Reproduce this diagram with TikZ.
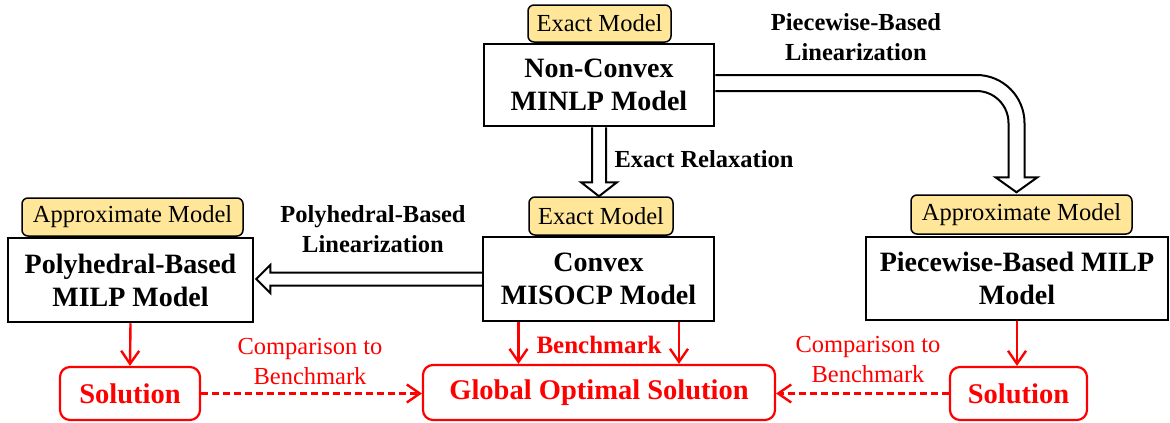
\documentclass[tikz,border=0pt]{standalone}
\usepackage{fontspec}
\setmainfont{Liberation Serif}
\usetikzlibrary{arrows.meta,calc}
\definecolor{tagfill}{HTML}{FFE699}
\begin{document}
\begin{tikzpicture}[x=1pt,y=-1pt,
  modelbox/.style={draw=black, line width=2.5pt, fill=white, align=center, inner sep=0pt,
    font=\bfseries\fontsize{28}{33}\selectfont},
  tagbox/.style={draw=black, line width=1.5pt, fill=tagfill, rounded corners=6pt, inner sep=0pt,
    font=\fontsize{24.5}{28}\selectfont},
  solbox/.style={draw=red, text=red, line width=2.2pt, rounded corners=10pt, inner sep=0pt,
    font=\bfseries\fontsize{28.5}{33}\selectfont},
  hollow/.style={draw=black, line width=2pt, fill=white, line join=miter},
  redarrow/.style={draw=red, line width=2.4pt, -{Straight Barb[length=13pt,width=18pt]}},
  dasharrow/.style={redarrow, dash pattern=on 7pt off 4pt},
  lbl/.style={font=\bfseries\fontsize{24.5}{30}\selectfont, align=center},
  redlbl/.style={text=red, font=\fontsize{24.5}{30}\selectfont, align=center},
  redbold/.style={text=red, font=\bfseries\fontsize{25}{30}\selectfont}]
\useasboundingbox (0,0) rectangle (1170,423);

% model boxes
\node[modelbox, minimum width=230pt, minimum height=82pt] (nc) at (599,85) {Non-Convex\\MINLP Model};
\node[modelbox, minimum width=231pt, minimum height=84pt] (cv) at (598.5,279) {Convex\\MISOCP Model};
\node[modelbox, minimum width=245pt, minimum height=84pt] (pb) at (130.5,280) {Polyhedral-Based\\MILP Model};
\node[modelbox, minimum width=302pt, minimum height=83pt] (pw) at (1017,278.5) {Piecewise-Based MILP\\Model};

% model-type tags
\node[tagbox, minimum width=143pt, minimum height=37pt] (tagA) at (599.5,23.5) {Exact Model};
\node[tagbox, minimum width=144pt, minimum height=38pt] (tagB) at (601,216) {Exact Model};
\node[tagbox, minimum width=221pt, minimum height=38pt] (tagC) at (132.5,217) {Approximate Model};
\node[tagbox, minimum width=221pt, minimum height=39pt] (tagD) at (1021.5,214.5) {Approximate Model};

% solutions
\node[solbox, minimum width=140pt, minimum height=53pt] (sL) at (130,393.5) {Solution};
\node[solbox, minimum width=352pt, minimum height=55pt] (gl) at (599,392.5) {Global Optimal Solution};
\node[solbox, minimum width=137pt, minimum height=53pt] (sR) at (1018.5,393.5) {Solution};

% hollow arrow: exact relaxation
\coordinate (dt) at (nc.south |- tagB.north);
\path[hollow] ($(nc.south)+(-7,0)$) -- ($(dt)+(-7,-14)$) -- ($(dt)+(-18,-14)$) -- (dt)
  -- ($(dt)+(18,-14)$) -- ($(dt)+(7,-14)$) -- ($(nc.south)+(7,0)$);
\node[lbl, anchor=west] (lx) at ($(nc.south)!0.5!(dt)+(12,-3)$) {Exact Relaxation};

% hollow arrow: polyhedral-based linearization
\coordinate (lt) at ($(pb.east |- cv.west)+(2,0)$);
\path[hollow] ($(cv.west)+(0,-6.5)$) -- ($(lt)+(14,-6.5)$) -- ($(lt)+(14,-14)$) -- (lt)
  -- ($(lt)+(14,14)$) -- ($(lt)+(14,6.5)$) -- ($(cv.west)+(0,6.5)$);
\node[lbl] (lp) at (373,229) {Polyhedral-Based\\Linearization};

% hollow bent arrow: piecewise-based linearization
\coordinate (ca) at ($(nc.east)+(0,-2)$);
\coordinate (cb) at ($(tagD.north)+(-5,0)$);
\coordinate (cc) at (cb |- ca);
\path[hollow] ($(ca)+(0,-8)$) -- ($(cc)+(-40,-8)$)
  .. controls ($(cc)+(-13.5,-8)$) and ($(cc)+(8,13.5)$) .. ($(cc)+(8,40)$)
  -- ($(cb)+(8,-17)$) -- ($(cb)+(21,-17)$) -- ($(cb)+(0,-2)$) -- ($(cb)+(-21,-17)$) -- ($(cb)+(-8,-17)$)
  -- ($(cc)+(-8,40)$) .. controls ($(cc)+(-8,22.3)$) and ($(cc)+(-22.3,8)$) .. ($(cc)+(-40,8)$)
  -- ($(ca)+(0,8)$);
\node[lbl] (lw) at (856,37) {Piecewise-Based\\Linearization};

% red solution arrows
\draw[redarrow] (pb.south) -- (sL.north);
\draw[redarrow] (pw.south) -- (pw.south |- sR.north);
\coordinate (b1) at ($(cv.south)+(-80,0)$);
\coordinate (b2) at ($(cv.south)+(80.5,0)$);
\draw[redarrow] (b1) -- (b1 |- gl.north);
\draw[redarrow] (b2) -- (b2 |- gl.north);
\node[redbold] (bm) at (599,345) {Benchmark};

% comparison arrows
\draw[dasharrow] (sL.east) -- (sL.east -| gl.west);
\draw[dasharrow] (sR.west) -- (sR.west -| gl.east);
\node[redlbl] (cL) at (310,362) {Comparison to\\Benchmark};
\node[redlbl] (cR) at (868,360) {Comparison to\\Benchmark};
\end{tikzpicture}
\end{document}
